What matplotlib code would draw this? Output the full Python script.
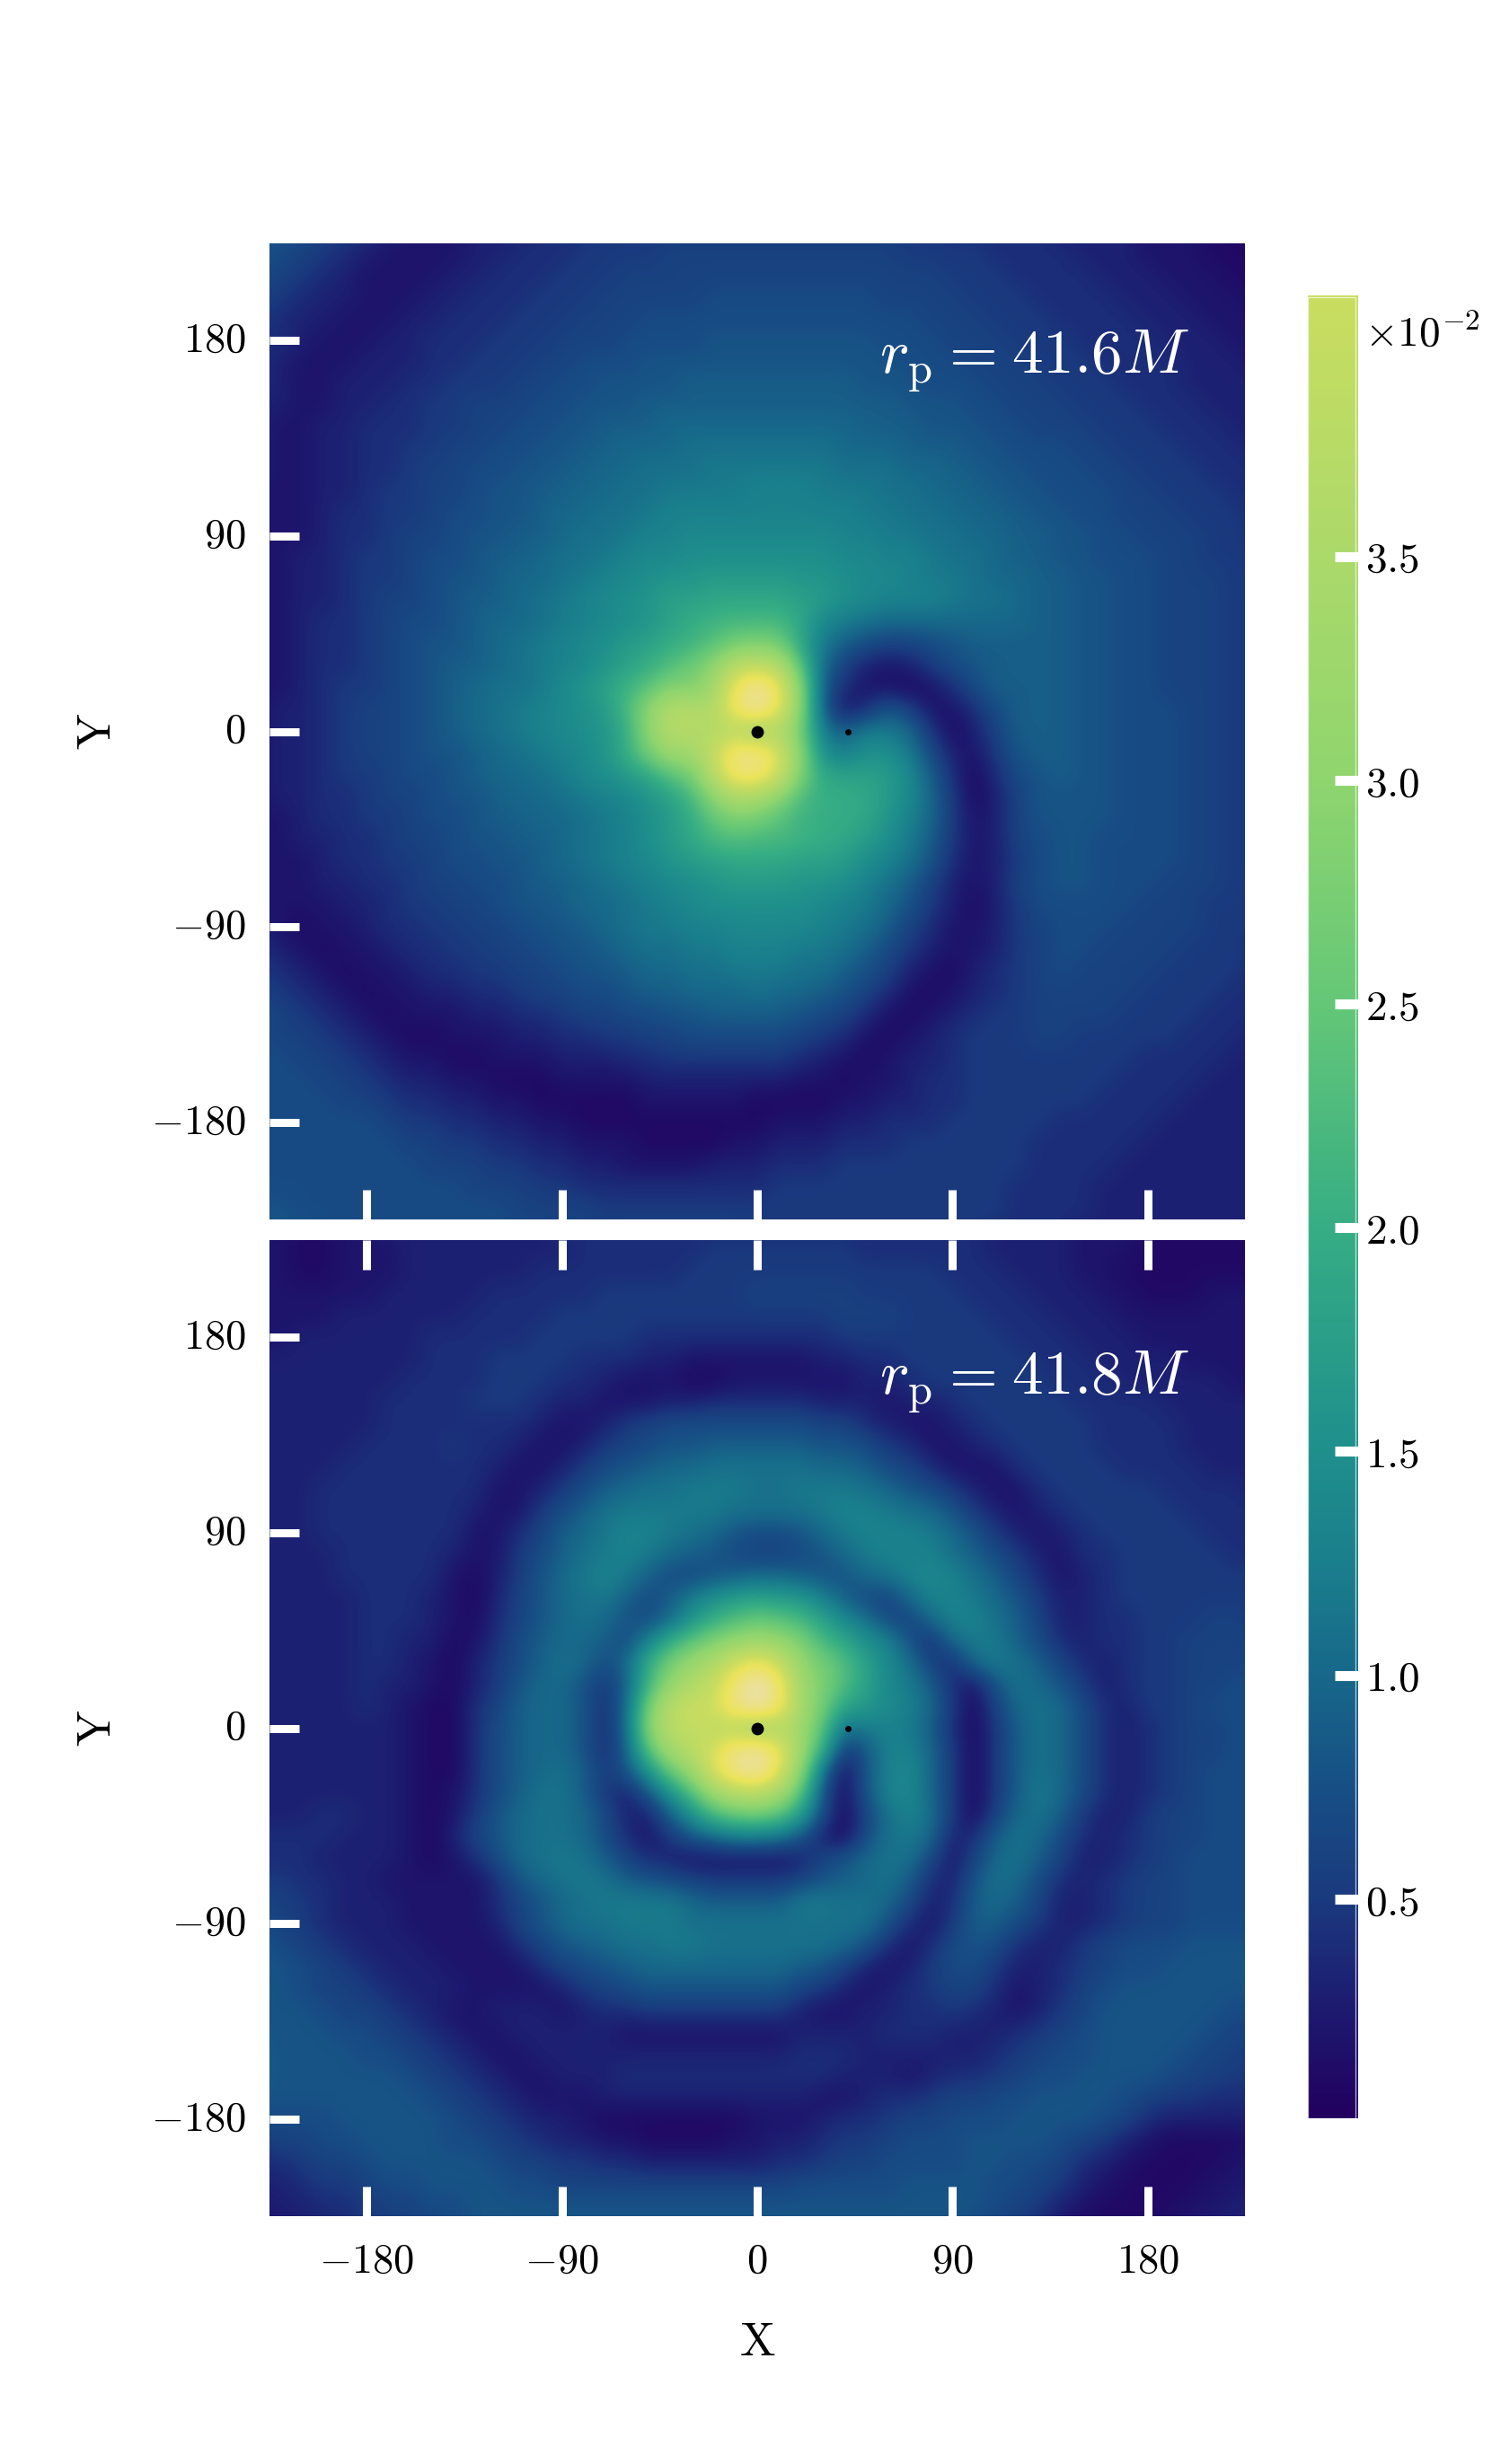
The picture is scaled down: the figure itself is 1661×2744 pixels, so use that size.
import numpy as np
import matplotlib
matplotlib.use('Agg')
import matplotlib.pyplot as plt
from matplotlib.colors import LinearSegmentedColormap, Normalize
from matplotlib.patches import Rectangle

plt.rcParams['mathtext.fontset'] = 'cm'

# field values, in units of 0.1 x 10^-2
# rows run from y = 230 down to y = -230, columns from x = -230 to x = 230, step 10
grid_x = np.arange(-230, 231, 10)
field_top = [
    [8,8,7,6,5, 4,3,2,2,2, 3,3,3,4,4, 4,5,5,5,5, 5,5,5,5,5, 5,5,5,5,5, 5,5,4,4,4, 4,4,3,3,3, 3,2,2,2,1, 1,1],
    [8,7,6,5,4, 3,2,2,2,2, 3,3,4,4,4, 5,5,5,5,6, 6,6,6,6,6, 6,6,6,6,6, 5,5,5,5,4, 4,4,4,3,3, 3,2,2,2,1, 1,1],
    [7,6,5,4,3, 2,2,2,2,3, 3,4,4,4,5, 5,5,6,6,6, 6,6,6,6,6, 6,6,6,6,6, 6,6,5,5,5, 4,4,4,4,3, 3,3,2,2,2, 1,1],
    [6,5,4,3,3, 2,2,2,3,3, 4,4,4,5,5, 5,6,6,6,6, 6,7,7,7,7, 7,7,7,7,6, 6,6,6,5,5, 5,4,4,4,4, 3,3,3,2,2, 2,1],
    [5,4,3,3,2, 2,2,3,3,4, 4,4,5,5,5, 6,6,6,7,7, 7,7,7,7,7, 7,7,7,7,7, 7,6,6,6,5, 5,5,4,4,4, 4,3,3,3,2, 2,2],
    [4,4,3,2,2, 2,3,3,4,4, 4,5,5,5,6, 6,6,7,7,7, 7,8,8,8,8, 8,8,8,8,7, 7,7,6,6,6, 5,5,5,4,4, 4,4,3,3,3, 2,2],
    [4,3,2,2,2, 3,3,3,4,4, 5,5,5,6,6, 7,7,7,8,8, 8,8,8,8,8, 8,8,8,8,8, 7,7,7,6,6, 6,5,5,5,4, 4,4,4,3,3, 3,2],
    [4,3,2,2,3, 3,3,4,4,5, 5,5,6,6,7, 7,8,8,8,8, 9,9,9,9,9, 9,9,9,8,8, 8,7,7,7,6, 6,6,5,5,5, 4,4,4,3,3, 3,3],
    [3,3,2,2,3, 3,4,4,5,5, 6,6,6,7,7, 8,8,8,9,9, 9,9,9,9,9, 9,9,9,9,9, 8,8,8,7,7, 6,6,6,5,5, 5,4,4,4,3, 3,3],
    [3,2,2,3,3, 4,4,4,5,5, 6,6,7,7,8, 8,9,9,9,10, 10,10,10,10,10, 10,10,10,9,9, 9,8,8,8,7, 7,6,6,6,5, 5,5,4,4,4, 3,3],
    [3,2,2,3,3, 4,4,5,5,6, 6,7,7,8,8, 9,9,10,10,10, 11,11,11,11,11, 11,11,10,10,10, 9,9,9,8,8, 7,7,7,6,6, 5,5,5,4,4, 4,3],
    [3,2,2,3,3, 4,4,5,6,6, 7,7,8,8,9, 9,10,10,11,11, 11,12,12,12,12, 12,12,11,11,11, 10,10,9,9,8, 8,7,7,7,6, 6,5,5,5,4, 4,4],
    [2,2,2,3,3, 4,5,5,6,6, 7,8,8,9,9, 10,10,11,11,12, 12,12,12,13,13, 13,12,12,12,11, 11,10,10,9,9, 8,8,7,7,7, 6,6,5,5,5, 4,4],
    [2,2,2,3,4, 4,5,5,6,7, 7,8,8,9,10, 10,11,11,12,13, 13,13,13,13,13, 13,13,13,12,12, 11,11,10,10,9, 9,8,8,7,7, 6,6,6,5,5, 5,4],
    [2,2,2,3,4, 4,5,6,6,7, 8,8,9,9,10, 11,11,12,13,13, 14,14,14,14,14, 14,14,13,13,12, 12,11,11,10,10, 9,9,8,8,7, 7,6,6,6,5, 5,4],
    [2,2,3,3,4, 5,5,6,7,7, 8,9,9,10,11, 11,12,13,14,14, 15,15,15,15,15, 15,15,14,14,13, 13,12,11,11,10, 9,9,8,8,7, 7,7,6,6,5, 5,5],
    [2,2,3,3,4, 5,5,6,7,8, 8,9,10,10,11, 12,13,14,15,16, 16,17,17,17,17, 16,16,15,14,14, 13,12,12,11,10, 10,9,9,8,8, 7,7,6,6,6, 5,5],
    [2,2,3,3,4, 5,6,6,7,8, 9,9,10,11,12, 13,14,15,16,18, 18,19,19,19,19, 18,17,15,14,13, 13,13,12,11,11, 10,9,9,8,8, 7,7,6,6,6, 5,5],
    [2,2,3,4,4, 5,6,7,7,8, 9,10,10,11,12, 13,14,15,16,18, 20,21,22,22,22, 19,14,12,11,10, 10,10,10,10,10, 10,9,9,8,8, 7,7,6,6,6, 5,5],
    [2,2,3,4,4, 5,6,7,8,8, 9,10,11,12,13, 14,15,17,18,20, 21,24,27,28,27, 19,12,9,7,6, 6,7,8,9,9, 9,9,9,8,8, 7,7,6,6,6, 5,5],
    [2,2,3,4,4, 5,6,7,8,9, 9,10,11,12,13, 14,16,18,20,23, 26,30,38,40,37, 24,10,6,3,2, 3,5,7,8,9, 9,9,9,8,8, 7,7,6,6,6, 5,5],
    [2,2,3,4,5, 5,6,7,8,9, 10,11,11,12,14, 16,18,21,24,29, 28,33,46,52,46, 29,9,4,2,2, 1,2,4,7,9, 9,9,9,8,8, 7,7,6,6,6, 5,5],
    [2,3,3,4,5, 6,6,7,8,9, 10,11,12,13,14, 15,17,22,30,37, 37,36,47,53,45, 29,9,2,4,8, 6,2,2,4,7, 9,9,9,8,8, 7,7,7,6,6, 5,5],
    [2,3,3,4,5, 6,6,7,8,9, 10,11,12,13,14, 15,16,20,30,37, 37,36,38,32,36, 27,12,9,12,12, 10,5,1,3,6, 9,9,9,8,8, 7,7,7,6,6, 5,5],
    [2,3,3,4,5, 6,6,7,8,8, 9,10,11,12,13, 14,16,20,27,33, 33,40,49,50,43, 29,15,12,15,15, 12,7,3,2,5, 8,9,9,8,8, 7,7,7,6,6, 5,5],
    [2,3,3,4,5, 5,6,7,7,8, 9,10,10,11,12, 14,15,17,19,24, 27,38,48,49,42, 28,19,18,18,17, 14,9,4,1,4, 7,8,9,8,8, 7,7,7,6,6, 5,5],
    [2,3,3,4,4, 5,6,6,7,8, 8,9,10,10,11, 12,13,14,16,18, 22,30,36,35,30, 23,20,20,19,17, 14,10,5,1,3, 6,8,8,8,8, 7,7,7,6,6, 5,5],
    [2,2,3,4,4, 5,5,6,7,7, 8,9,9,10,10, 11,12,13,15,17, 20,25,28,27,24, 21,20,20,19,16, 13,10,5,2,3, 6,8,8,8,8, 7,7,7,6,6, 5,5],
    [2,2,3,3,4, 4,5,6,6,7, 8,8,9,9,10, 11,12,13,15,17, 19,22,23,22,22, 21,20,19,17,15, 12,9,5,2,3, 6,7,8,8,7, 7,7,7,6,6, 5,5],
    [2,2,2,3,4, 4,5,5,6,7, 7,8,8,9,10, 11,12,13,14,16, 17,18,19,19,19, 18,18,17,15,13, 11,8,4,2,3, 5,7,8,8,7, 7,7,7,6,6, 5,5],
    [2,2,2,3,3, 4,4,5,6,6, 7,7,8,9,9, 10,11,12,13,14, 15,16,17,17,17, 16,16,15,13,11, 9,6,3,2,3, 6,7,8,8,7, 7,7,6,6,6, 5,5],
    [2,2,2,2,3, 3,4,5,5,6, 6,7,8,8,9, 10,10,11,12,13, 14,15,15,15,15, 15,14,13,12,10, 8,5,3,1,3, 5,7,7,7,7, 7,6,6,6,5, 5,5],
    [3,2,1,2,2, 3,4,4,5,5, 6,6,7,8,8, 9,10,11,12,12, 13,13,14,14,14, 14,13,12,11,9, 6,4,2,2,3, 5,6,7,7,7, 6,6,6,6,5, 5,5],
    [4,3,2,1,2, 2,3,4,4,5, 5,6,6,7,8, 8,9,10,11,11, 12,12,13,13,13, 12,12,11,9,7, 5,3,2,2,3, 5,6,7,7,6, 6,6,6,5,5, 5,4],
    [5,4,3,2,1, 2,2,3,4,4, 5,5,6,6,7, 8,8,9,10,10, 11,11,12,12,12, 11,11,9,8,6, 3,2,1,3,4, 5,6,7,6,6, 6,6,5,5,5, 5,4],
    [6,5,4,3,2, 1,2,2,3,3, 4,4,5,6,6, 7,7,8,9,9, 10,10,10,11,10, 10,9,8,6,4, 2,1,2,3,4, 5,6,6,6,6, 6,5,5,5,5, 4,4],
    [7,6,5,4,3, 2,1,2,2,2, 3,3,4,4,5, 6,6,7,7,8, 8,9,9,9,9, 8,7,6,4,2, 1,2,3,4,5, 5,6,6,6,6, 5,5,5,5,4, 4,4],
    [7,6,6,5,4, 3,2,1,1,2, 2,2,3,3,4, 4,5,5,6,6, 7,7,7,7,7, 6,5,4,2,1, 2,3,4,5,5, 5,6,6,5,5, 5,5,5,4,4, 4,3],
    [7,7,6,6,5, 4,3,2,2,1, 1,2,2,2,3, 3,3,4,4,5, 5,5,5,5,5, 4,3,2,1,2, 3,3,4,5,5, 5,5,5,5,5, 5,4,4,4,4, 3,3],
    [7,7,7,6,6, 5,4,3,3,2, 2,1,1,1,2, 2,2,2,3,3, 3,3,3,3,3, 2,2,1,2,2, 3,4,4,5,5, 5,5,5,5,5, 4,4,4,4,3, 3,3],
    [7,7,7,7,6, 6,5,4,4,3, 3,2,2,1,1, 1,1,1,2,2, 2,2,2,1,1, 1,1,2,2,3, 3,4,4,5,5, 5,5,5,5,4, 4,4,4,3,3, 3,3],
    [7,7,7,7,7, 7,6,5,5,4, 4,3,3,2,2, 1,1,1,1,1, 1,1,1,1,2, 2,2,3,3,4, 4,4,5,5,5, 5,5,4,4,4, 4,4,3,3,3, 3,3],
    [7,7,7,7,7, 7,7,6,6,5, 5,4,4,3,3, 2,2,2,1,1, 1,1,2,2,3, 3,3,4,4,4, 5,5,5,5,5, 5,4,4,4,4, 4,3,3,3,3, 3,3],
    [7,7,7,7,7, 7,7,7,6,6, 6,5,5,4,4, 3,3,2,2,2, 2,3,3,3,4, 4,4,5,5,5, 5,5,5,5,5, 5,4,4,4,4, 3,3,3,3,3, 3,3],
    [7,7,7,7,7, 7,7,7,7,7, 6,6,6,5,5, 4,4,4,4,4, 4,4,4,4,5, 5,5,5,5,5, 5,5,5,5,5, 4,4,4,4,3, 3,3,3,3,3, 3,3],
    [8,8,7,7,7, 7,7,7,7,7, 7,7,6,6,6, 6,5,5,5,5, 5,5,5,5,5, 5,5,5,5,5, 5,5,5,5,5, 4,4,4,4,3, 3,3,3,3,3, 3,3],
    [8,8,8,7,7, 7,7,7,7,7, 7,7,7,6,6, 6,6,6,6,6, 6,6,6,5,5, 5,5,5,5,5, 5,5,5,5,4, 4,4,4,3,3, 3,3,3,3,3, 3,3],
]
field_bot = [
    [2,2,1,1,2, 2,3,3,3,3, 3,3,3,3,4, 4,4,4,4,4, 4,4,4,4,4, 4,4,4,4,4, 4,4,4,4,3, 3,3,3,2,2, 2,1,1,1,1, 1,1],
    [2,2,1,1,2, 2,2,3,3,3, 3,3,3,3,3, 4,4,4,4,4, 4,5,5,5,5, 5,5,5,4,4, 4,4,4,4,3, 3,3,3,2,2, 2,1,1,1,1, 1,1],
    [2,2,1,1,2, 2,2,3,3,3, 3,3,3,4,4, 4,4,4,4,4, 5,5,5,5,5, 5,5,5,5,5, 5,5,4,4,4, 3,3,3,2,2, 1,1,1,1,1, 1,1],
    [2,2,2,2,2, 2,3,3,3,3, 3,4,4,4,4, 4,5,5,5,5, 5,5,5,6,6, 6,6,6,5,5, 5,5,5,4,4, 4,3,3,3,2, 2,1,1,1,2, 2,2],
    [2,2,2,2,3, 3,3,3,3,3, 4,4,4,4,5, 5,5,5,5,5, 5,5,5,5,5, 5,5,6,6,6, 5,5,5,5,4, 4,4,3,3,3, 2,2,2,2,2, 2,2],
    [2,2,3,3,3, 3,3,3,4,4, 4,4,4,5,5, 5,5,5,4,4, 4,4,4,4,4, 4,4,5,5,5, 5,5,5,5,5, 4,4,4,3,3, 3,2,2,2,2, 2,2],
    [3,3,3,3,3, 3,3,3,4,4, 4,5,5,5,5, 4,4,4,3,3, 2,2,2,2,2, 2,3,3,4,4, 5,5,5,5,5, 5,4,4,4,3, 3,3,3,2,2, 2,2],
    [3,3,3,3,3, 3,3,4,4,4, 4,5,5,5,4, 4,3,2,2,2, 1,1,2,2,2, 2,2,2,3,3, 4,5,5,5,5, 5,5,4,4,4, 3,3,3,3,3, 2,2],
    [3,3,3,3,3, 3,4,4,4,4, 5,5,5,4,3, 3,2,2,2,3, 3,4,4,4,4, 4,3,3,3,2, 3,3,4,5,5, 5,5,5,4,4, 4,4,3,3,3, 3,3],
    [3,3,3,3,3, 3,4,4,4,4, 4,4,4,3,2, 2,3,5,6,7, 7,7,7,7,7, 7,6,6,4,3, 2,2,3,4,5, 5,5,5,5,4, 4,4,4,3,3, 3,3],
    [3,3,3,3,3, 4,4,4,4,5, 4,4,3,2,2, 3,5,6,7,8, 8,9,9,9,9, 9,8,8,7,5, 4,2,2,3,4, 5,5,5,5,4, 4,4,4,3,3, 3,3],
    [3,3,3,3,4, 4,4,4,4,4, 4,3,2,2,3, 5,7,8,9,10, 10,11,11,11,11, 11,10,10,9,7, 6,4,2,2,2, 4,5,5,5,5, 4,4,4,4,3, 3,3],
    [3,3,3,4,4, 4,4,4,4,4, 4,2,2,3,5, 7,9,10,11,11, 12,12,12,11,11, 12,12,12,11,10, 8,7,5,3,2, 2,4,5,5,5, 5,5,4,4,4, 4,3],
    [3,3,3,4,4, 4,4,4,4,4, 3,2,2,5,7, 9,11,12,12,12, 12,12,11,11,11, 11,12,13,13,12, 11,10,8,5,3, 2,3,4,5,5, 5,5,5,4,4, 4,4],
    [3,3,3,4,4, 4,4,4,4,4, 2,2,4,6,9, 10,12,13,13,12, 11,10,8,7,7, 8,10,12,13,13, 13,12,10,8,5, 3,2,3,4,5, 5,5,5,5,4, 4,4],
    [3,3,3,3,4, 4,4,4,4,3, 2,2,5,7,9, 11,12,13,12,10, 9,8,7,6,6, 7,8,10,12,13, 13,13,11,9,7, 5,3,2,4,4, 5,5,5,5,5, 4,4],
    [3,3,3,3,4, 4,4,4,4,2, 1,3,5,8,10, 12,13,12,9,7, 7,8,9,10,10, 9,8,8,10,11, 13,14,13,11,9, 6,4,2,3,4, 5,5,5,5,5, 5,5],
    [3,3,3,3,3, 4,4,4,3,2, 1,3,6,8,10, 11,12,9,7,9, 12,15,17,18,17, 16,13,9,7,6, 10,13,13,12,10, 8,5,3,3,4, 5,5,5,5,5, 5,5],
    [3,3,3,3,3, 4,4,4,3,2, 1,4,6,8,10, 11,10,8,7,10, 16,20,23,25,24, 22,18,14,11,7, 6,10,13,13,11, 9,6,3,3,4, 4,5,5,5,6, 6,5],
    [3,3,3,3,3, 4,4,3,3,1, 2,4,7,9,10, 10,9,7,13,20, 24,28,31,33,31, 28,22,19,15,13, 8,4,10,12,12, 9,7,4,3,4, 4,5,5,6,6, 6,6],
    [3,3,3,3,3, 4,4,3,2,1, 3,5,7,9,11, 10,7,10,20,27, 32,36,42,46,41, 31,27,23,18,14, 11,6,4,10,12, 11,9,6,4,3, 4,5,5,6,6, 6,6],
    [3,3,3,3,3, 4,3,3,2,1, 3,5,8,10,10, 8,5,9,21,31, 36,40,48,55,48, 33,28,23,18,14, 12,9,4,2,8, 11,10,8,5,3, 4,5,5,6,6, 7,7],
    [3,3,3,3,3, 4,3,2,1,1, 4,6,9,10,10, 8,4,10,27,38, 41,41,50,54,48, 34,27,18,17,14, 13,10,5,1,6, 10,11,10,7,4, 3,5,5,6,7, 7,7],
    [3,3,3,3,3, 3,3,2,1,1, 4,7,9,10,10, 8,4,10,29,38, 40,39,37,32,36, 33,24,11,12,13, 12,9,4,1,5, 9,11,10,7,4, 3,4,5,6,6, 7,7],
    [3,3,3,3,3, 3,3,2,1,1, 4,7,9,10,10, 8,4,9,24,34, 38,42,50,52,46, 33,20,5,8,13, 13,10,5,1,5, 9,11,10,7,4, 3,4,5,6,6, 7,7],
    [3,3,3,3,3, 3,3,2,1,1, 4,7,9,10,11, 9,5,8,15,25, 32,44,50,54,44, 30,11,1,8,13, 14,10,5,1,5, 9,11,10,7,4, 3,4,5,6,7, 7,7],
    [3,3,3,3,3, 3,3,2,1,2, 4,7,9,11,11, 9,5,3,8,15, 23,32,37,38,34, 24,8,1,8,13, 14,10,5,1,5, 9,12,10,7,4, 3,4,5,6,7, 7,7],
    [3,3,3,4,4, 3,3,2,1,2, 5,8,10,11,11, 10,7,3,3,9, 15,22,25,26,24, 17,7,1,6,11, 13,11,5,1,6, 10,11,9,5,3, 3,5,6,6,7, 7,7],
    [4,4,4,4,3, 3,3,2,1,3, 6,8,10,11,11, 10,7,4,2,5, 8,10,12,12,11, 8,3,1,7,11, 12,10,3,4,9, 11,10,7,4,3, 4,5,6,6,7, 7,7],
    [4,4,4,3,3, 3,3,2,1,2, 4,7,10,11,12, 11,9,6,4,3, 2,2,2,2,2, 3,6,8,10,11, 11,7,2,6,10, 11,9,6,3,3, 4,5,6,7,7, 7,7],
    [5,5,4,4,3, 3,2,2,2,2, 2,4,8,10,11, 12,11,9,8,7, 6,5,5,5,5, 6,8,9,10,11, 9,4,3,8,11, 10,7,4,3,4, 5,6,6,7,7, 7,7],
    [6,6,5,4,3, 3,3,2,2,2, 2,4,6,8,10, 11,12,12,12,12, 10,9,9,9,9, 12,12,11,11,10, 7,3,4,9,10, 9,6,3,3,4, 5,6,6,7,7, 7,7],
    [7,6,5,4,3, 3,3,2,2,2, 2,3,6,8,10, 11,11,12,12,12, 11,11,11,11,11, 11,11,11,11,8, 4,2,5,9,9, 7,5,3,3,4, 5,6,6,7,7, 7,7],
    [8,7,6,5,4, 3,3,3,2,2, 2,2,4,6,8, 9,10,11,11,12, 12,11,11,11,11, 11,11,10,8,4, 2,4,7,8,7, 4,3,3,5,6, 7,7,7,8,8, 8,8],
    [8,8,7,6,5, 4,3,3,3,2, 2,2,2,4,6, 7,8,9,10,10, 10,10,10,10,10, 9,8,6,3,2, 3,5,7,7,5, 3,3,4,5,6, 7,7,8,8,8, 8,8],
    [8,8,7,6,6, 5,4,3,3,3, 2,2,2,2,3, 5,6,7,8,8, 8,8,8,8,8, 6,5,3,2,3, 4,5,6,6,4, 2,3,4,6,7, 8,8,8,8,8, 8,8],
    [8,8,8,7,6, 6,5,4,3,2, 2,3,3,3,2, 3,4,4,5,5, 5,5,5,5,5, 3,2,2,3,3, 4,4,5,4,3, 2,3,5,6,8, 8,8,8,8,8, 7,7],
    [8,8,8,8,7, 7,6,5,4,3, 2,2,3,3,3, 3,3,2,2,2, 2,2,2,2,2, 3,3,3,3,4, 4,4,3,3,3, 4,5,6,7,8, 8,8,8,8,7, 6,6],
    [9,8,8,8,8, 7,7,6,5,4, 3,2,2,3,3, 3,3,3,3,3, 3,3,3,3,3, 4,4,4,3,3, 3,3,3,3,4, 5,6,7,7,8, 8,8,8,7,6, 6,5],
    [9,8,8,8,8, 8,8,7,6,5, 4,3,2,2,3, 3,3,4,4,4, 4,4,4,4,4, 4,4,3,3,3, 2,3,4,4,5, 6,7,7,8,8, 8,8,7,6,6, 5,5],
    [8,8,8,8,8, 8,8,8,7,6, 5,4,3,2,2, 2,3,3,3,3, 3,3,3,3,3, 3,2,2,3,4, 4,5,6,6,7, 7,8,8,8,8, 7,6,5,5,4, 4,4],
    [7,7,7,7,8, 8,8,8,8,7, 6,5,4,3,3, 2,1,1,1,1, 1,1,1,2,2, 2,3,4,4,5, 6,6,7,7,7, 8,8,8,8,7, 6,4,3,3,3, 3,3],
    [5,6,6,7,7, 8,8,8,8,7, 7,6,5,4,3, 3,2,2,1,1, 1,1,2,2,3, 3,4,5,5,6, 7,7,7,8,8, 8,8,7,6,5, 3,2,1,1,1, 1,2],
    [4,4,5,6,6, 7,8,8,8,8, 8,7,6,6,5, 5,4,4,3,3, 3,3,3,3,4, 4,5,6,6,7, 7,7,7,8,8, 7,7,6,4,3, 2,1,1,1,1, 2,2],
    [3,3,4,5,5, 6,7,7,8,8, 8,8,7,7,6, 6,6,6,6,6, 6,6,6,6,6, 7,7,7,7,7, 8,8,8,8,7, 7,6,5,3,2, 1,1,1,1,2, 2,3],
    [2,3,3,4,4, 5,6,6,7,7, 8,8,8,8,8, 8,8,8,8,8, 8,8,8,8,8, 8,8,8,8,8, 8,8,8,8,7, 6,5,3,2,1, 1,1,1,2,2, 3,3],
    [2,2,3,3,4, 5,5,6,6,7, 8,8,8,8,8, 8,8,8,8,8, 8,8,8,8,8, 8,8,8,8,8, 8,8,8,7,6, 5,4,2,1,1, 1,1,2,2,3, 3,3],
]

panel_labels = [r'$r_{\rm p}\hspace{0.05}=\hspace{0.05}41.6M$', r'$r_{\rm p}\hspace{0.05}=\hspace{0.05}41.8M$']
secondary_x = [41.6, 41.8]
axis_ticks = [-180, -90, 0, 90, 180]
cbar_ticks = [0.5, 1.0, 1.5, 2.0, 2.5, 3.0, 3.5]
cbar_range = [0.01, 4.083]

# colormap anchors, value against colour
cmap_values = [0.01, 0.25, 0.5, 0.75, 1.0, 1.25, 1.5, 2.0, 2.5, 3.0, 3.5, 4.08, 4.5, 4.8, 5.3]
cmap_colors = ['#22005f', '#1d1a70', '#1a3a7e', '#174f85', '#17688a', '#1a7f8c', '#1f8f8c', '#36ad84',
               '#64c777', '#8fd56e', '#abd96a', '#c9dd60', '#ebe45a', '#ece275', '#ebe0a5']
vmin, vmax = cmap_values[0], cmap_values[-1]
cmap = LinearSegmentedColormap.from_list(
    'field', [((v - vmin) / (vmax - vmin), c) for v, c in zip(cmap_values, cmap_colors)], N=512)
norm = Normalize(vmin, vmax)

W, H = 1661, 2744
fig = plt.figure(figsize=(W / 100, H / 100), dpi=100)
ax_top = fig.add_axes([300 / W, 1 - 1358 / H, 1086 / W, 1087 / H])
ax_bot = fig.add_axes([300 / W, 1 - 2468 / H, 1086 / W, 1087 / H])
cax = fig.add_axes([1456 / W, 1 - 2359 / H, 56 / W, 2030 / H])

half = 5
extent = [grid_x[0] - half, grid_x[-1] + half, grid_x[0] - half, grid_x[-1] + half]
for i, (ax, field) in enumerate(zip([ax_top, ax_bot], [field_top, field_bot])):
    im = ax.imshow(np.array(field) * 0.1, extent=extent, origin='upper', cmap=cmap, norm=norm,
                   interpolation='bicubic', aspect='auto')
    ax.scatter([0], [0], s=100, color='k', linewidths=0, zorder=3)
    ax.scatter([secondary_x[i]], [0], s=25, color='k', linewidths=0, zorder=3)
    ax.set_xlim(-224.7, 224.7)
    ax.set_ylim(-224.7, 224.7)
    ax.set_xticks(axis_ticks)
    ax.set_yticks(axis_ticks)
    ax.set_yticklabels(['$%d$' % t for t in axis_ticks], va='center')
    ax.tick_params(axis='both', direction='in', color='white', length=24, width=6.5, labelsize=33.5)
    ax.tick_params(axis='y', pad=19)
    ax.tick_params(axis='x', pad=20)
    for s in ax.spines.values():
        s.set_visible(False)
    ax.set_ylabel('$\\mathrm{Y}$', fontsize=38, labelpad=24)

ax_top.tick_params(axis='x', labelbottom=False)
ax_bot.tick_params(axis='x', top=True)
ax_bot.set_xticklabels(['$%d$' % t for t in axis_ticks])
ax_bot.set_xlabel('$\\mathrm{X}$', fontsize=38, labelpad=30)

ax_top.text(0.943, 0.8666, panel_labels[0], transform=ax_top.transAxes, color='white', fontsize=50,
            ha='right', va='baseline')
ax_bot.text(0.943, 0.842, panel_labels[1], transform=ax_bot.transAxes, color='white', fontsize=50,
            ha='right', va='baseline')

# colorbar stops at the top of its range, the peaks in the panels go past it
cbar = fig.colorbar(im, cax=cax)
cax.set_ylim(cbar_range)
cbar.set_ticks(cbar_ticks)
cbar.set_ticklabels(['$%.1f$' % t for t in cbar_ticks], va='center_baseline')
cbar.outline.set_visible(False)
cax.tick_params(direction='in', color='white', length=19, width=8, labelsize=34, pad=6)
cax.add_patch(Rectangle((0, 0), 0.95, 0.999, transform=cax.transAxes, fill=False,
                        edgecolor='white', linewidth=0.9, alpha=0.7, zorder=5))
fig.text(1519 / W, 1 - 385 / H, r'$\times 10^{-2}$', fontsize=34, ha='left', va='baseline')

fig.savefig('out.png', dpi=100)
